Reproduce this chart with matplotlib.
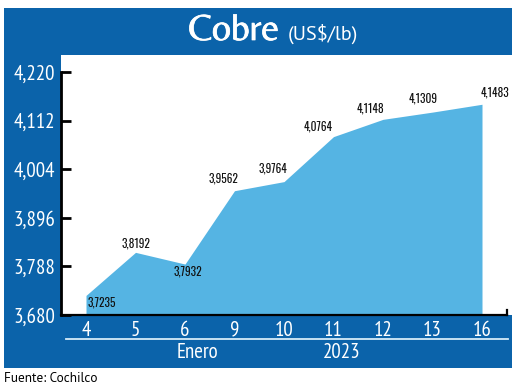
import matplotlib
matplotlib.use("Agg")
import matplotlib.pyplot as plt
from matplotlib import font_manager as fm
from matplotlib.patches import Rectangle
from matplotlib.lines import Line2D
import matplotlib.patheffects as pe

# ---- data ----
days = ["4", "5", "6", "9", "10", "11", "12", "13", "16"]
prices = [3.7235, 3.8192, 3.7932, 3.9562, 3.9764, 4.0764, 4.1148, 4.1309, 4.1483]
yticks = [3.680, 3.788, 3.896, 4.004, 4.112, 4.220]
month_label = "Enero"
year_label = "2023"
title = "Cobre"
unit = "(US$/lb)"
source = "Fuente: Cochilco"

# label offsets in points (style only)
label_offsets = [(11, -5), (0, 6.5), (2, -5), (-8, 8.5), (-8, 9.5), (-11, 7.5), (-9, 8), (-6.5, 9.5), (9.5, 8.5)]

_avail = {f.name for f in fm.fontManager.ttflist}

def pick(cands):
    for c in cands:
        if c in _avail:
            return [c, "DejaVu Sans"]
    return ["DejaVu Sans"]

NARROW = pick(["PT Sans Narrow", "Fira Sans Condensed", "Roboto Condensed", "Archivo Narrow",
               "Liberation Sans Narrow", "Open Sans Condensed"])
LABELF = pick(["Oswald", "Fira Sans Extra Condensed", "Barlow Condensed", "Roboto Condensed",
               "PT Sans Narrow"])
TITLEF = pick(["Belleza", "Tenor Sans", "Lato"])
SANS = pick(["PT Sans", "Lato", "Open Sans"])

DARK = "#0b63aa"
LIGHT = "#55b4e3"

W, H = 520, 390
fig = plt.figure(figsize=(W / 100, H / 100), dpi=100)
fig.patch.set_facecolor("white")

def fx(px):
    return px / W

def fy(py):
    return 1 - py / H

# blue frame
fig.patches.append(Rectangle((fx(4), fy(368)), fx(512) - fx(4), fy(8) - fy(368),
                             transform=fig.transFigure, facecolor=DARK, edgecolor="none", zorder=0))

ax = fig.add_axes([fx(61), fy(315), fx(512) - fx(61), fy(55) - fy(315)])
ax.set_facecolor("white")
ax.set_zorder(1)

x = list(range(len(days)))
y0 = yticks[0]
ax.fill_between(x, prices, y0, color=LIGHT, linewidth=0, zorder=2)

ax.set_ylim(3.680, 3.680 + (4.220 - 3.680) * 260 / 243)
ax.set_xlim(-25 / 49.5, 8 + 30 / 49.5)

for s in ["top", "right"]:
    ax.spines[s].set_visible(False)
ax.spines["left"].set_bounds(yticks[0], yticks[-1])
ax.spines["left"].set_linewidth(2)
ax.spines["bottom"].set_linewidth(1.6)
right_end = len(days) - 1 + 0.5
ax.spines["bottom"].set_bounds(ax.get_xlim()[0], right_end)
ax.plot([right_end, right_end], [y0, y0 + 0.012], color="black", lw=1.6, clip_on=False, zorder=5)

ax.set_yticks(yticks)
ax.set_yticklabels([f"{v:.3f}".replace(".", ",") for v in yticks])
ax.tick_params(axis="y", direction="in", length=7, width=2, pad=4,
               labelcolor="white", labelsize=15)
ax.set_xticks(x)
ax.set_xticklabels(days)
ax.tick_params(axis="x", length=0, pad=4, labelcolor="white", labelsize=15)
for lab in ax.get_yticklabels() + ax.get_xticklabels():
    lab.set_family(NARROW)

for xi, v, (dx, dy) in zip(x, prices, label_offsets):
    ax.annotate(f"{v:.4f}".replace(".", ","), (xi, v), xytext=(dx, dy), textcoords="offset points",
                ha="center", va="center", fontsize=8.2, fontweight="semibold", family=LABELF,
                color="#111111", zorder=6)

# white separator line & bottom labels
fig.lines.append(Line2D([fx(66), fx(508)], [fy(339), fy(339)], transform=fig.transFigure,
                        color="#d6ecf8", lw=1.3, zorder=3))
fig.text(fx(197), fy(353), month_label, ha="center", va="center", color="white",
         fontsize=15, family=NARROW)
fig.text(fx(342), fy(353), year_label, ha="center", va="center", color="white",
         fontsize=15, family=NARROW)

# title
fig.text(fx(279), fy(40), title, ha="right", va="baseline", color="white",
         fontsize=27, family=TITLEF,
         path_effects=[pe.withStroke(linewidth=0.5, foreground="white")])
fig.text(fx(288), fy(40), unit, ha="left", va="baseline", color="white",
         fontsize=14.5, family=SANS)

fig.text(fx(4), fy(379), source, ha="left", va="center", color="black",
         fontsize=9.5, family=SANS)

fig.savefig("out.png", dpi=100, facecolor="white")
